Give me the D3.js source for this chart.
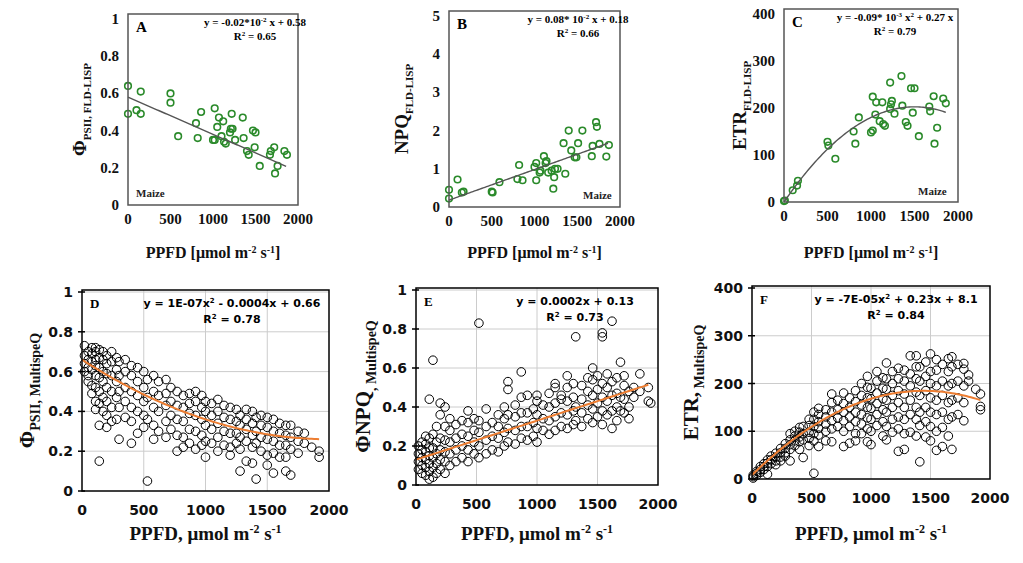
<!DOCTYPE html>
<html><head><meta charset="utf-8">
<script src="https://cdn.jsdelivr.net/npm/d3@7"></script>
<style>body{margin:0;background:#fff}</style>
</head><body><svg width="1023" height="563"></svg>
<script>
// top panels: FLD-LISP, maize
var ppfdA = [0,0,100,150,150,500,500,590,800,820,860,1000,1020,1020,1050,1070,1100,1120,1130,1150,1200,1210,1220,1230,1260,1350,1360,1400,1420,1470,1490,1500,1550,1670,1680,1720,1730,1760,1840,1870];
var phiA  = [.64,.49,.51,.61,.49,.60,.55,.37,.44,.36,.50,.35,.35,.52,.42,.47,.37,.45,.34,.33,.39,.41,.49,.41,.35,.47,.36,.29,.27,.40,.31,.39,.21,.27,.29,.31,.17,.21,.29,.27];
var ppfdB = [0,0,100,150,170,500,510,590,800,820,860,1000,1020,1020,1060,1070,1110,1130,1140,1160,1200,1220,1230,1240,1270,1340,1360,1400,1430,1470,1490,1510,1560,1670,1680,1720,1730,1760,1840,1870];
var npqB  = [.45,.22,.72,.38,.40,.40,.38,.65,.73,1.10,.70,1.05,.70,1.15,.90,.95,1.33,1.15,1.20,.90,.95,.48,.78,1.00,1.00,1.67,.87,2.00,1.48,1.30,1.30,1.67,2.00,1.33,1.60,2.22,2.10,1.65,1.32,1.62];
var ppfdC = [0,10,100,150,160,500,510,590,800,820,860,1000,1020,1020,1050,1060,1100,1130,1140,1160,1220,1220,1230,1240,1270,1350,1360,1400,1420,1460,1480,1500,1550,1670,1680,1720,1730,1760,1830,1860];
var etrC  = [2,3,25,35,45,128,120,92,150,124,180,148,152,224,186,212,172,212,166,162,198,254,208,215,188,268,205,170,162,242,190,242,140,203,193,225,124,158,220,210];

// bottom panels: MultispeQ, columns of [PPFD, [values...]]
var colsD = [[20,[.73,.68,.64,.60]],[50,[.70,.66,.62,.58,.55]],[80,[.72,.69,.65,.61,.53,.49]],[110,[.72,.70,.66,.63,.58,.52,.45,.41]],[140,[.71,.67,.62,.57,.50,.44,.33,.15]],[170,[.70,.66,.60,.55,.47,.40]],[200,[.68,.64,.59,.52,.45,.38,.32]],[240,[.70,.65,.58,.50,.42,.35]],[280,[.67,.61,.55,.47,.36]],[300,[.65,.58,.50,.42,.26]],[350,[.66,.60,.52,.45,.37]],[400,[.63,.58,.50,.42,.35,.24]],[450,[.62,.55,.48,.40,.29]],[500,[.60,.52,.45,.38,.32]],[530,[.56,.47,.36,.05]],[580,[.58,.50,.42,.33,.26]],[620,[.55,.48,.40,.30]],[680,[.56,.49,.43,.35,.27]],[720,[.52,.45,.38,.31]],[770,[.50,.43,.36,.28,.20]],[820,[.48,.42,.35,.27,.22]],[870,[.49,.44,.39,.31,.24]],[920,[.50,.45,.38,.30,.21]],[970,[.48,.42,.36,.28,.23]],[1000,[.45,.40,.33,.25,.17]],[1050,[.44,.38,.31,.24]],[1100,[.46,.40,.34,.27,.20]],[1150,[.43,.37,.30,.23]],[1200,[.42,.36,.29,.22,.18]],[1250,[.41,.35,.29,.24]],[1280,[.38,.33,.27,.21,.10]],[1330,[.41,.36,.31,.25,.15]],[1380,[.40,.34,.28,.22,.14]],[1410,[.37,.30,.24,.06]],[1450,[.38,.33,.27,.20]],[1500,[.37,.32,.26,.18,.13]],[1550,[.36,.30,.25,.19,.09]],[1600,[.34,.29,.23,.17]],[1650,[.33,.28,.23,.17,.10]],[1690,[.33,.27,.21,.08]],[1750,[.30,.25,.19]],[1800,[.29,.24]],[1860,[.22]],[1920,[.20,.17]]];
var colsE = [[20,[.08,.12,.16,.20]],[50,[.06,.10,.14,.18,.22]],[80,[.05,.09,.13,.17,.21,.25]],[110,[.03,.07,.11,.15,.19,.24,.44]],[140,[.04,.09,.14,.19,.26,.64]],[170,[.06,.11,.16,.22,.30]],[200,[.08,.13,.18,.24,.36,.42]],[240,[.06,.12,.17,.23,.30,.40]],[280,[.10,.16,.22,.28,.34]],[330,[.12,.18,.24,.31]],[380,[.14,.20,.26,.33]],[430,[.12,.18,.25,.32,.38]],[480,[.16,.22,.28,.34]],[520,[.14,.20,.27,.33,.83]],[580,[.16,.23,.30,.39]],[630,[.18,.25,.32]],[680,[.17,.24,.30,.36]],[730,[.20,.27,.34,.40]],[760,[.22,.29,.36,.49,.53]],[820,[.21,.28,.35,.41]],[870,[.24,.30,.37,.45,.58]],[920,[.23,.30,.37,.46]],[970,[.25,.32,.39]],[1000,[.22,.29,.36,.43,.46]],[1050,[.28,.34,.41]],[1100,[.26,.33,.40,.47]],[1150,[.28,.35,.42,.50,.52]],[1200,[.30,.37,.44,.46]],[1250,[.29,.36,.43,.50,.56]],[1300,[.31,.38,.45,.52]],[1320,[.33,.40,.76]],[1370,[.30,.37,.44,.51]],[1420,[.34,.41,.48,.55]],[1460,[.32,.39,.46,.54,.60]],[1500,[.35,.42,.49,.56]],[1540,[.31,.38,.45,.52,.76,.78]],[1580,[.36,.43,.50,.57]],[1620,[.29,.38,.46,.53,.84]],[1660,[.33,.40,.47,.55]],[1690,[.38,.45,.63]],[1720,[.37,.44,.51,.56]],[1760,[.34,.40,.48]],[1800,[.45,.50]],[1850,[.48,.57]],[1920,[.43,.50]],[1940,[.42]]];
var colsF = [[10,[2,5,8]],[40,[8,12,16]],[70,[14,20,26]],[100,[20,26,32]],[130,[10,26,33,40]],[160,[32,40,48]],[200,[38,46,54,30]],[240,[46,55,64,38]],[280,[55,64,74,48]],[320,[62,72,82,95,38]],[360,[70,80,90,100]],[400,[78,88,98,108,62]],[430,[45,82,95,110]],[480,[85,98,112,125,70]],[520,[12,80,95,110,125,140]],[560,[68,92,106,120,135,148]],[620,[80,100,115,130,145]],[670,[78,105,122,140,160,178]],[720,[110,128,145,165]],[770,[68,100,122,140,158,180]],[820,[75,110,130,150,170]],[870,[80,95,120,140,162,185]],[920,[95,115,135,155,175,200]],[970,[78,105,128,150,170,192,215]],[1000,[72,100,125,148,168,190]],[1050,[112,135,158,180,205,225]],[1100,[90,120,145,168,190,212]],[1130,[82,110,140,165,188,210,243]],[1180,[98,125,150,175,200,225]],[1230,[58,105,130,160,185,210,232]],[1280,[62,95,125,150,178,205,228]],[1330,[98,135,165,195,220,258]],[1380,[90,125,150,182,210,235,258]],[1410,[36,112,140,175,205,235]],[1460,[88,120,150,185,215,245]],[1500,[80,110,140,170,200,225,262]],[1550,[60,100,135,165,195,228,250]],[1600,[68,108,140,175,205,240]],[1650,[90,125,160,195,225,252]],[1680,[62,130,165,200,235,256]],[1730,[135,170,205,240]],[1780,[122,160,195,230,242]],[1820,[205,218]],[1880,[188]],[1920,[178,152,145]]];

// fit coefficients [a, b, c] for a*x^2 + b*x + c
var fitA = [0, -0.0002, 0.58], fitB = [0, 0.0008, 0.18], fitC = [-0.00009, 0.27, 0];
var fitD = [1e-7, -0.0004, 0.66], fitE = [0, 0.0002, 0.13], fitF = [-0.000085, 0.245, 8.1];
var xTicks = [0, 500, 1000, 1500, 2000];

var svg = d3.select('svg');

function zip(xs, ys){ return xs.map(function(x,i){return [x, ys[i]];}); }
function flat(cols){ var out=[]; cols.forEach(function(c){c[1].forEach(function(v){out.push([c[0],v]);});}); return out; }

function panel(p){
  var x = d3.scaleLinear().domain([0,2000]).range([p.x0, p.x1]);
  var y = d3.scaleLinear().domain([0,p.ymax]).range([p.y0, p.y1]);
  var g = svg.append('g');
  var top = p.y1 - p.pad;
  if (p.grid) {
    g.selectAll('line.gx').data(xTicks.slice(1,4)).enter().append('line').attr('class','gx')
      .attr('x1',x).attr('x2',x).attr('y1',top).attr('y2',p.y0).attr('stroke','#cccccc').attr('stroke-width',1);
    g.selectAll('line.gy').data(p.yTicks.slice(1)).enter().append('line').attr('class','gy')
      .attr('x1',p.x0).attr('x2',p.x1).attr('y1',y).attr('y2',y).attr('stroke','#cccccc').attr('stroke-width',1);
  }
  var font = p.grid ? '"DejaVu Sans", Verdana, sans-serif' : '"Liberation Serif", "Times New Roman", serif';
  g.selectAll('text.tx').data(xTicks).enter().append('text').attr('class','tx')
    .attr('x',x).attr('y',p.y0 + p.tickGap).attr('text-anchor','middle')
    .attr('font-family',font).attr('font-weight','bold').attr('font-size',p.tickSize).attr('fill','#111')
    .text(function(d){return d;});
  g.selectAll('text.ty').data(p.yTicks).enter().append('text').attr('class','ty')
    .attr('x',p.x0 - 9).attr('y',function(d){return y(d)+5;}).attr('text-anchor','end')
    .attr('font-family',font).attr('font-weight','bold').attr('font-size',p.tickSize).attr('fill','#111')
    .text(function(d){return d;});
  if (p.grid) {
    g.selectAll('line.tm').data(p.yTicks).enter().append('line').attr('class','tm')
      .attr('x1',p.x0-4).attr('x2',p.x0+3).attr('y1',y).attr('y2',y).attr('stroke','#000').attr('stroke-width',1.5);
  }

  g.selectAll('circle').data(p.pts).enter().append('circle')
    .attr('cx',function(d){return x(d[0]);}).attr('cy',function(d){return y(d[1]);})
    .attr('r',p.r).attr('fill','none').attr('stroke',p.col).attr('stroke-width',p.sw);

  var f = p.fit, xs = d3.range(0, p.fitEnd+1, 20);
  g.append('path').datum(xs)
    .attr('d', d3.line().x(function(d){return x(d);}).y(function(d){return y(f[0]*d*d+f[1]*d+f[2]);}))
    .attr('fill','none').attr('stroke',p.lineCol).attr('stroke-width',p.lw);

  g.append('rect').attr('x',p.x0).attr('y',top).attr('width',p.x1-p.x0).attr('height',p.y0-top)
    .attr('fill','none').attr('stroke',p.grid ? '#000' : '#555').attr('stroke-width',1.5);

  g.append('text').attr('x',p.x0+8).attr('y',top+18).attr('font-family','"Liberation Serif", serif')
    .attr('font-weight','bold').attr('font-size',p.grid ? 13 : 15).text(p.letter);
  var ef = p.grid ? '"DejaVu Sans", sans-serif' : '"Liberation Serif", serif';
  p.eq.forEach(function(line, i){
    var t = g.append('text').attr('x',p.eqX).attr('y',top+ (p.grid?17:12) + i*(p.grid?16:14)).attr('text-anchor','middle')
      .attr('font-family',ef).attr('font-weight','bold').attr('font-size',11);
    line.forEach(function(s){ var ts = t.append('tspan').text(s[0]); if (s[1]) ts.attr('baseline-shift','super').attr('font-size',7); });
  });
  if (p.maize) {
    g.append('text').attr('x',p.maize[0]).attr('y',p.maize[1]).attr('font-family','"Liberation Serif", serif')
      .attr('font-weight','bold').attr('font-size',11).attr('fill','#222').text('Maize');
  }
  // y title
  var yt = g.append('text').attr('transform','translate('+p.ytX+','+((top+p.y0)/2)+') rotate(-90)')
    .attr('text-anchor','middle').attr('font-family','"Liberation Serif", serif').attr('font-weight','bold')
    .attr('font-size',p.grid ? 21 : 19).attr('fill','#111');
  yt.append('tspan').text(p.yMain);
  yt.append('tspan').text(p.ySub).attr('font-size',p.grid ? 14 : 11).attr('dy',p.grid ? 6 : 5);
  // x title
  var xt = g.append('text').attr('x',(p.x0+p.x1)/2).attr('y',p.xtY).attr('text-anchor','middle')
    .attr('font-family','"Liberation Serif", serif').attr('font-weight','bold').attr('font-size',p.grid ? 19 : 16).attr('fill','#111');
  p.xTitle.forEach(function(s){ var ts = xt.append('tspan').text(s[0]); if (s[1]) ts.attr('baseline-shift','super').attr('font-size',p.grid?12:10); });
}

var topTitle = [['PPFD [μmol m'],['-2',1],[' s'],['-1',1],[']']];
var botTitle = [['PPFD, μmol m'],['-2',1],[' s'],['-1',1]];
var green = '#2a8a2a';
var topBase = {grid:false, y0:205, y1:19, pad:5, tickGap:19, tickSize:15, r:3.3, sw:1.6, col:green, lineCol:'#555', lw:1.4, xtY:258, xTitle:topTitle};
var botBase = {grid:true, pad:2, tickGap:24, tickSize:14, r:4.3, sw:1, col:'#000', lineCol:'#ed7d31', lw:2, xtY:540, xTitle:botTitle, fitEnd:1940};

panel(Object.assign({}, topBase, {x0:128, x1:298, ymax:1, yTicks:[0,.2,.4,.6,.8,1], pts:zip(ppfdA,phiA), fit:fitA, fitEnd:1860,
  letter:'A', eqX:255, eq:[[['y = -0.02*10'],['-2',1],[' x + 0.58']],[['R'],['2',1],[' = 0.65']]], maize:[136,197], ytX:86, yMain:'Φ', ySub:'PSII, FLD-LISP'}));
panel(Object.assign({}, topBase, {x0:449, x1:620, y0:207, y1:16, ymax:5, yTicks:[0,1,2,3,4,5], pts:zip(ppfdB,npqB), fit:fitB, fitEnd:1860,
  letter:'B', eqX:578, eq:[[['y = 0.08* 10'],['-2',1],[' x + 0.18']],[['R'],['2',1],[' = 0.66']]], maize:[583,199], ytX:408, yMain:'NPQ', ySub:'FLD-LISP'}));
panel(Object.assign({}, topBase, {x0:784, x1:958, y0:202, y1:14, ymax:400, yTicks:[0,100,200,300,400], pts:zip(ppfdC,etrC), fit:fitC, fitEnd:1860,
  letter:'C', eqX:895, eq:[[['y = -0.09* 10'],['-3',1],[' x'],['2',1],[' + 0.27 x']],[['R'],['2',1],[' = 0.79']]], maize:[918,195], ytX:746, yMain:'ETR', ySub:'FLD-LISP'}));

panel(Object.assign({}, botBase, {x0:82, x1:329, y0:491, y1:292, ymax:1, yTicks:[0,.2,.4,.6,.8,1], pts:flat(colsD), fit:fitD, fitEnd:1930,
  letter:'D', eqX:232, eq:[[['y = 1E-07x'],['2',1],[' - 0.0004x + 0.66']],[['R'],['2',1],[' = 0.78']]], ytX:34, yMain:'Φ', ySub:'PSII, MultispeQ'}));
panel(Object.assign({}, botBase, {x0:416, x1:658, y0:485, y1:290, ymax:1, yTicks:[0,.2,.4,.6,.8,1], pts:flat(colsE), fit:fitE, fitEnd:1930,
  letter:'E', eqX:575, eq:[[['y = 0.0002x + 0.13']],[['R'],['2',1],[' = 0.73']]], ytX:370, yMain:'ΦNPQ', ySub:', MultispeQ'}));
panel(Object.assign({}, botBase, {x0:752, x1:990, y0:479, y1:288, ymax:400, yTicks:[0,100,200,300,400], pts:flat(colsF), fit:fitF, fitEnd:1930,
  letter:'F', eqX:896, eq:[[['y = -7E-05x'],['2',1],[' + 0.23x + 8.1']],[['R'],['2',1],[' = 0.84']]], ytX:698, yMain:'ETR,', ySub:' MultispeQ'}));
</script></body></html>
